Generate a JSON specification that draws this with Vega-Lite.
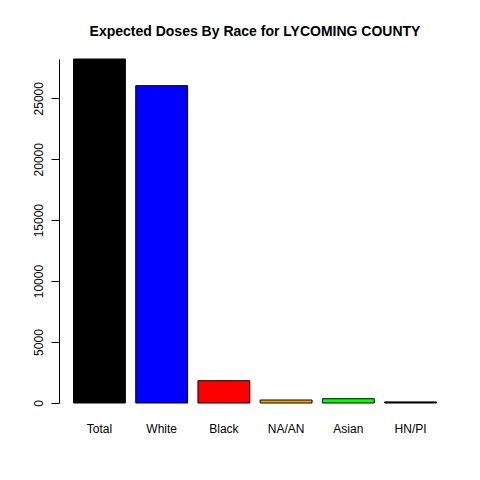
{
  "$schema": "https://vega.github.io/schema/vega-lite/v6.json",
  "autosize": "none",
  "width": 392,
  "height": 344,
  "padding": {"left": 59, "top": 59, "right": 29, "bottom": 77},
  "background": "white",
  "config": {
    "view": {"stroke": null},
    "font": "Liberation Sans"
  },
  "title": {
    "text": "Expected Doses By Race for LYCOMING COUNTY",
    "font": "Liberation Sans",
    "fontSize": 14,
    "fontWeight": "bold",
    "color": "black",
    "anchor": "middle",
    "baseline": "alphabetic",
    "offset": 9
  },
  "data": {
    "values": [
      {"race": "Total", "doses": 28221, "color": "#000000"},
      {"race": "White", "doses": 26033, "color": "#0000FF"},
      {"race": "Black", "doses": 1828, "color": "#FF0000"},
      {"race": "NA/AN", "doses": 246, "color": "#FFA500"},
      {"race": "Asian", "doses": 352, "color": "#00FF00"},
      {"race": "HN/PI", "doses": 90, "color": "#000000"}
    ]
  },
  "mark": {"type": "bar", "stroke": "black", "strokeWidth": 1},
  "encoding": {
    "x": {
      "field": "race",
      "type": "nominal",
      "sort": null,
      "scale": {"paddingInner": 0.1667, "paddingOuter": 0.2333},
      "axis": {
        "title": null,
        "labelAngle": 0,
        "ticks": false,
        "domain": false,
        "labelPadding": 20,
        "labelFontSize": 12,
        "labelColor": "black",
        "labelFont": "Liberation Sans"
      }
    },
    "y": {
      "field": "doses",
      "type": "quantitative",
      "scale": {"nice": false, "zero": true},
      "axis": {
        "title": null,
        "values": [0, 5000, 10000, 15000, 20000, 25000],
        "format": "d",
        "grid": false,
        "tickSize": 8,
        "tickColor": "black",
        "domainColor": "black",
        "labelAngle": -90,
        "labelAlign": "center",
        "labelBaseline": "bottom",
        "labelPadding": 6,
        "labelFontSize": 12,
        "labelColor": "black",
        "labelFont": "Liberation Sans"
      }
    },
    "fill": {"field": "color", "type": "nominal", "scale": null, "legend": null}
  }
}
